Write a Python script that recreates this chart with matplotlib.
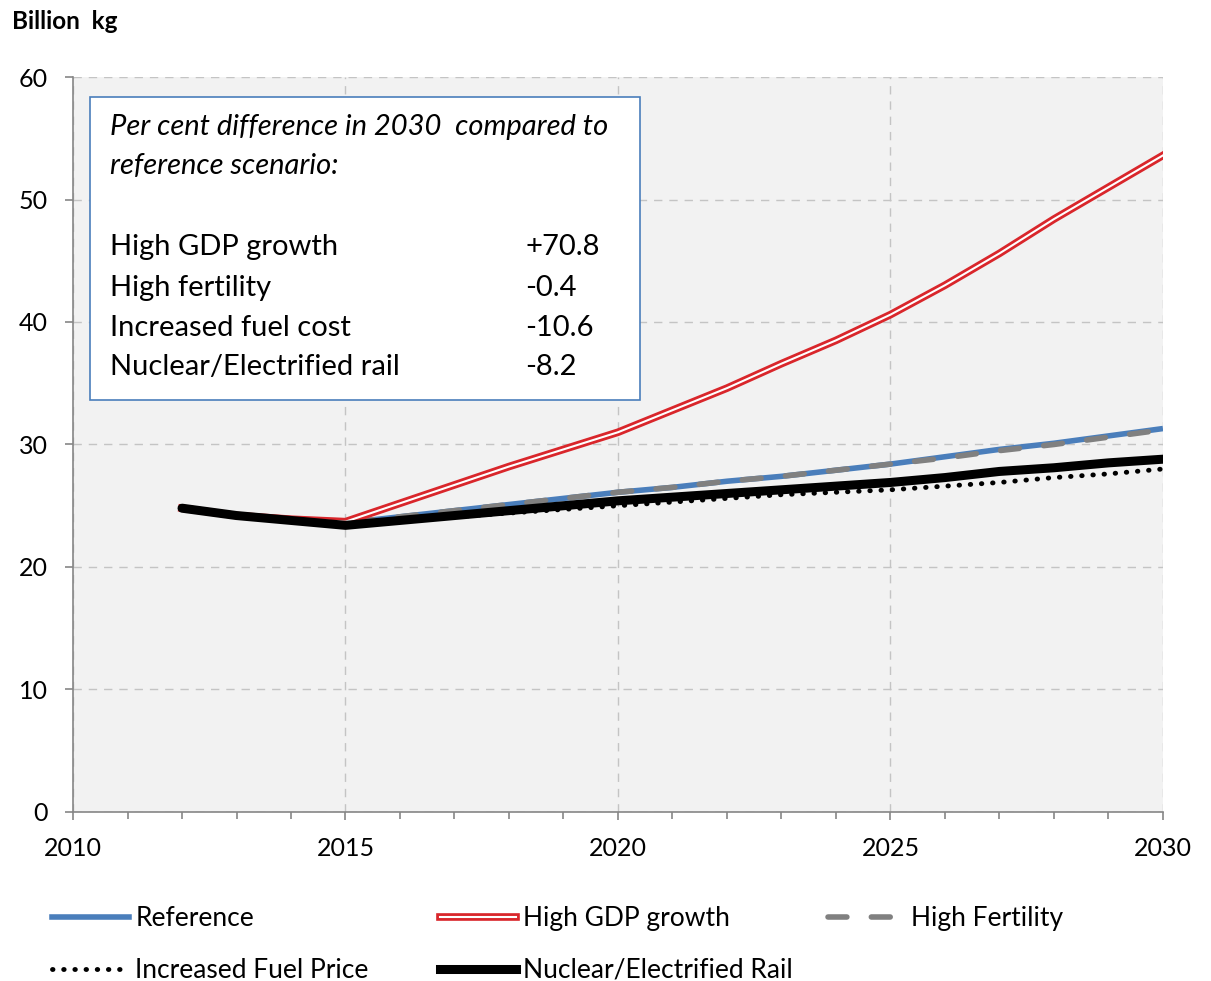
import matplotlib
matplotlib.use("Agg")
import matplotlib.pyplot as plt
from matplotlib.lines import Line2D
from matplotlib.patches import Rectangle
from matplotlib.ticker import MultipleLocator

plt.rcParams["font.family"] = ["Lato", "DejaVu Sans"]

years = list(range(2012, 2031))
fuel_years = list(range(2015, 2031))

reference = [24.8, 24.2, 23.9, 23.6, 24.1, 24.6, 25.1, 25.6, 26.1, 26.5,
             27.0, 27.4, 27.9, 28.4, 29.0, 29.6, 30.1, 30.7, 31.3]
high_gdp = [24.8, 24.2, 23.9, 23.7, 25.2, 26.7, 28.2, 29.6, 31.0, 32.8,
            34.6, 36.6, 38.5, 40.6, 43.0, 45.6, 48.4, 51.0, 53.6]
high_fertility = [24.8, 24.2, 23.9, 23.6, 24.1, 24.6, 25.1, 25.6, 26.1, 26.5,
                  27.0, 27.4, 27.9, 28.4, 28.9, 29.5, 30.0, 30.6, 31.2]
fuel_price = [23.4, 23.8, 24.1, 24.4, 24.7, 25.0, 25.3, 25.6, 25.9, 26.1,
              26.3, 26.6, 26.9, 27.3, 27.6, 28.0]
nuclear_rail = [24.8, 24.2, 23.8, 23.4, 23.8, 24.2, 24.6, 25.0, 25.4, 25.7,
                26.0, 26.3, 26.6, 26.9, 27.3, 27.8, 28.1, 28.5, 28.8]

box_labels = ["High GDP growth", "High fertility", "Increased fuel cost",
              "Nuclear/Electrified rail"]
box_values = ["+70.8", "-0.4", "-10.6", "-8.2"]

fig = plt.figure(figsize=(12.11, 9.81), dpi=100)
ax = fig.add_axes([0.0603, 0.1723, 0.9000, 0.7492])
ax.set_facecolor("#f2f2f2")

blue = "#4a7ebb"
red = "#d9262b"
fuel_style = (0, (0.1, 2.2))
fert_dash = (3.4, 4.4)

ax.plot(years, reference, color=blue, lw=4, solid_capstyle="butt", zorder=3)
ax.plot(years, high_fertility, color="#808080", lw=4, dashes=fert_dash,
        dash_capstyle="round", zorder=4)
ax.plot(years, high_gdp, color=red, lw=5.5, zorder=5)
ax.plot(years, high_gdp, color="white", lw=1.5, zorder=6)
ax.plot(fuel_years, fuel_price, color="black", lw=3.5, linestyle=fuel_style,
        dash_capstyle="round", zorder=7)
ax.plot(years, nuclear_rail, color="black", lw=6.5, solid_capstyle="round", zorder=8)

ax.set_xlim(2010, 2030)
ax.set_ylim(0, 60)
ax.xaxis.set_major_locator(MultipleLocator(5))
ax.xaxis.set_minor_locator(MultipleLocator(1))
ax.yaxis.set_major_locator(MultipleLocator(10))
ax.grid(True, which="major", color="#c4c4c4", linestyle=(0, (6, 5)), lw=1)
ax.set_axisbelow(True)
for side in ["top", "right"]:
    ax.spines[side].set_visible(False)
for side in ["left", "bottom"]:
    ax.spines[side].set_color("#868686")
    ax.spines[side].set_linewidth(1.2)
ax.tick_params(which="both", direction="out", color="#868686", width=1.2)
ax.tick_params(which="major", length=6, labelsize=18)
ax.tick_params(which="minor", length=5)
ax.tick_params(axis="x", pad=12)
ax.tick_params(axis="y", pad=12)

fig.text(0.010, 0.978, "Billion  kg", fontsize=17.5, fontweight="bold", va="center")

box = Rectangle((0.0156, 0.5605), 0.5045, 0.4125, transform=ax.transAxes,
                facecolor="white", edgecolor=blue, lw=1.2, zorder=10)
ax.add_patch(box)
ax.text(0.034, 0.932, "Per cent difference in 2030  compared to", transform=ax.transAxes,
        fontsize=21, style="italic", va="center", zorder=11)
ax.text(0.034, 0.879, "reference scenario:", transform=ax.transAxes,
        fontsize=21, style="italic", va="center", zorder=11)
rows_y = [0.769, 0.713, 0.659, 0.606]
for yy, lab, val in zip(rows_y, box_labels, box_values):
    ax.text(0.034, yy, lab, transform=ax.transAxes, fontsize=21, va="center", zorder=11)
    ax.text(0.415, yy, val, transform=ax.transAxes, fontsize=21, va="center", zorder=11)

h_ref = Line2D([], [], color=blue, lw=4)
h_gdp = (Line2D([], [], color=red, lw=5.5), Line2D([], [], color="white", lw=1.5))
h_fert = Line2D([], [], color="#808080", lw=4, dashes=fert_dash, dash_capstyle="round")
h_fuel = Line2D([], [], color="black", lw=3.5, linestyle=fuel_style, dash_capstyle="round")
h_nuc = Line2D([], [], color="black", lw=6.5)

legend_cols = [
    ([h_ref, h_fuel], ["Reference", "Increased Fuel Price"], 0.043),
    ([h_gdp, h_nuc], ["High GDP growth", "Nuclear/Electrified Rail"], 0.363),
    ([h_fert], ["High Fertility"], 0.684),
]
for handles, labels, xpos in legend_cols:
    fig.legend(handles, labels, loc="upper left", bbox_to_anchor=(xpos, 0.076),
               frameon=False, fontsize=19, handlelength=2.9, handletextpad=0.25,
               labelspacing=1.0, borderpad=0, borderaxespad=0)

fig.savefig("out.png", dpi=100)
